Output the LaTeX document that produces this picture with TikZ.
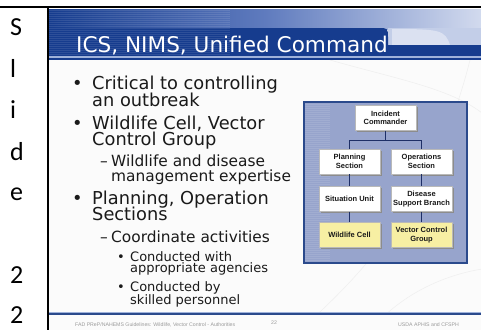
\documentclass[tikz,border=0pt]{standalone}
\usepackage{fontspec}
\setmainfont{DejaVu Sans}
\newfontfamily\sidefont{Carlito}
\newfontfamily\chartfont{Liberation Sans}
\usetikzlibrary{shadows}
\definecolor{hdrdark}{HTML}{163C8E}
\definecolor{hdrmid}{HTML}{5F7BBE}
\definecolor{hdrlight}{HTML}{D2DAEE}
\definecolor{hdrpale}{HTML}{C3CEE8}
\definecolor{hdrline}{HTML}{9FB2DA}
\definecolor{panelfill}{HTML}{97A4CC}
\definecolor{panelline}{HTML}{2B4A8C}
\definecolor{connector}{HTML}{1E2F66}
\definecolor{orgyellow}{HTML}{F7EFA3}
\definecolor{bodytext}{HTML}{1A1A1A}
\definecolor{foottext}{HTML}{9A9A9A}
\tikzset{
  sideletter/.style={anchor=base west, inner sep=0, font=\sidefont\fontsize{26}{26}\selectfont},
  lvlone/.style={anchor=base west, inner sep=0, text=bodytext, font=\fontsize{17.8}{18}\selectfont},
  lvltwo/.style={anchor=base west, inner sep=0, text=bodytext, font=\fontsize{15.4}{16}\selectfont},
  lvlthree/.style={anchor=base west, inner sep=0, text=bodytext, font=\fontsize{13}{14}\selectfont},
  orgbox/.style={draw=gray!55, line width=0.4pt, fill=white, minimum width=61pt, minimum height=25pt,
    inner sep=1pt, align=center, text=black!90,
    font=\chartfont\bfseries\fontsize{7.5}{8.4}\selectfont,
    drop shadow={shadow xshift=1.8pt, shadow yshift=-1.8pt, fill=black!45, opacity=1}},
  orgyel/.style={orgbox, fill=orgyellow},
  orglink/.style={draw=connector, line width=1pt},
  footstyle/.style={anchor=base west, inner sep=0, text=foottext, font=\chartfont\fontsize{5.2}{6}\selectfont}
}
\begin{document}
\begin{tikzpicture}[x=1pt,y=-1pt]
\useasboundingbox (0,0) rectangle (481,330);
\fill[white] (0,0) rectangle (481,330);
% frame lines
\draw[line width=2pt] (0,7) -- (481,7);
\draw[line width=2pt] (48,8) -- (48,330);
% left column letters
\node[sideletter] (l1) at (10,35) {S};
\node[sideletter] (l2) at (10,77) {l};
\node[sideletter] (l3) at (10,118) {i};
\node[sideletter] (l4) at (10,160) {d};
\node[sideletter] (l5) at (10,200) {e};
\node[sideletter] (l6) at (10,283) {2};
\node[sideletter] (l7) at (10,323.5) {2};
% slide background
\fill[white!97!gray] (49,9) rectangle (481,330);
\begin{scope}
\clip (49,60) rectangle (481,311);
\draw[gray!12, line width=0.6pt] (300,330) .. controls (380,260) and (440,180) .. (470,60);
\draw[gray!12, line width=0.6pt] (330,60) .. controls (400,80) and (460,90) .. (490,120);
\draw[gray!12, line width=0.6pt] (380,320) .. controls (420,280) and (470,270) .. (490,268);
\end{scope}
% header
\shade[left color=hdrdark, right color=hdrlight, middle color=hdrmid] (49,9) rectangle (481,29);
\fill[hdrpale] (388,28) rectangle (481,46);
\fill[hdrlight!80!white] (392,29) .. controls (440,29) and (445,30) .. (450,45) -- (392,45) -- cycle;
\fill[hdrdark] (388,45) rectangle (481,56);
\fill[hdrdark] (49,56) -- (49,28) -- (378,28) .. controls (388,28) .. (388,38) -- (388,56) -- cycle;
\foreach \yy in {10,12,...,54} {
  \fill[white, opacity=0.10] (49,\yy) rectangle (230,\yy+0.8);
}
\fill[hdrline] (49,56) rectangle (481,57.6);
\fill[hdrdark] (49,57.6) rectangle (481,59.6);
\node[anchor=base west, inner sep=0, text=white, font=\fontsize{21.6}{22}\selectfont] (title) at (76,52) {ICS, NIMS, Unified Command};
% bullets
\node[lvlone] (b1) at (72,89.3) {•};
\node[lvlone] (t1a) at (92,89.3) {Critical to controlling};
\node[lvlone] (t1b) at (92,106) {an outbreak};
\node[lvlone] (b2) at (72,129.3) {•};
\node[lvlone] (t2a) at (92,129.3) {Wildlife Cell, Vector};
\node[lvlone] (t2b) at (92,145.7) {Control Group};
\node[lvltwo] (d1) at (100,166.7) {–};
\node[lvltwo] (t3a) at (111,166.7) {Wildlife and disease};
\node[lvltwo] (t3b) at (111,181.7) {management expertise};
\node[lvlone] (b3) at (72,204) {•};
\node[lvlone] (t4a) at (92,204) {Planning, Operation};
\node[lvlone] (t4b) at (92,220.7) {Sections};
\node[lvltwo] (d2) at (100,242.3) {–};
\node[lvltwo] (t5) at (111,242.3) {Coordinate activities};
\node[lvlthree] (b4) at (116.8,261) {•};
\node[lvlthree] (t6a) at (130,261) {Conducted with};
\node[lvlthree] (t6b) at (130,272.7) {appropriate agencies};
\node[lvlthree] (b5) at (116.8,291) {•};
\node[lvlthree] (t7a) at (130,291) {Conducted by};
\node[lvlthree] (t7b) at (130,304) {skilled personnel};
% org chart panel
\fill[panelfill] (304,102) rectangle (467,263);
\foreach \yy in {104,106,...,262} {
  \fill[white, opacity=0.10] (305,\yy) rectangle (330,\yy+0.8);
}
\draw[panelline, line width=1.3pt] (304,102) rectangle (467,263);
\node[orgbox] (ic) at (385.5,118) {Incident\\Commander};
\node[orgbox] (ps) at (349.5,161.5) {Planning\\Section};
\node[orgbox] (os) at (421.5,161.5) {Operations\\Section};
\node[orgbox] (su) at (349.5,199) {Situation Unit};
\node[orgbox] (ds) at (421.5,199) {Disease\\Support Branch};
\node[orgyel] (wc) at (349.5,235) {Wildlife Cell};
\node[orgyel] (vc) at (421.5,235) {Vector Control\\Group};
\coordinate (split) at (385.5,140);
\draw[orglink] (ic.south) -- (split);
\draw[orglink] (split) -| (ps.north);
\draw[orglink] (split) -| (os.north);
\draw[orglink] (ps.south) -- (su.north);
\draw[orglink] (su.south) -- (wc.north);
\draw[orglink] (os.south) -- (ds.north);
\draw[orglink] (ds.south) -- (vc.north);
% footer
\fill[hdrline] (49,311.5) rectangle (481,313.3);
\fill[panelline] (49,313.3) rectangle (481,314.6);
\node[footstyle] (f1) at (75,326) {FAD PReP/NAHEMS Guidelines: Wildlife, Vector Control - Authorities};
\node[footstyle] (f2) at (271,324) {22};
\node[footstyle] (f3) at (398,326) {USDA APHIS and CFSPH};
\end{tikzpicture}
\end{document}
